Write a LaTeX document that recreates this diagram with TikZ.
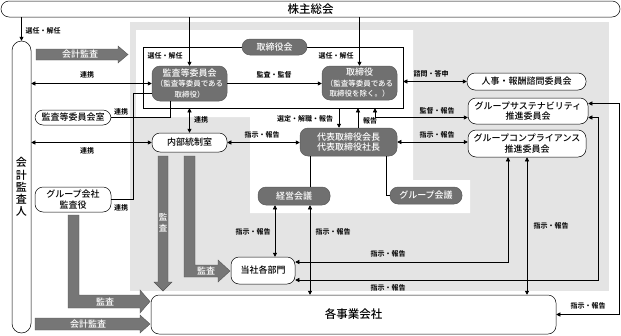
\documentclass[tikz,border=0pt]{standalone}
\usepackage{fontspec}
\setmainfont{Noto Sans CJK JP}[UprightFont=* Medium,BoldFont=* Bold]
\usetikzlibrary{arrows.meta,positioning,calc}
\definecolor{bggrey}{RGB}{228,228,228}
\definecolor{pillgrey}{RGB}{112,112,112}
\definecolor{bandgrey}{RGB}{118,118,118}
\newcommand\subln{\fontsize{7.5}{9.5}\selectfont}

\begin{document}
\begin{tikzpicture}[x=1pt,y=-1pt,line width=0.5pt,
  >={Triangle[length=4pt,width=4pt]},
  sz/.style 2 args={minimum width=#1pt,minimum height=#2pt},
  wpill/.style={draw,fill=white,rounded corners=8pt,align=center,inner sep=0pt,
    font=\fontsize{9}{10.5}\selectfont},
  gpill/.style={draw=pillgrey!80!black,fill=pillgrey,text=white,rounded corners=8pt,
    align=center,inner sep=0pt,font=\fontsize{9}{10.5}\selectfont},
  lab/.style={font=\fontsize{7}{8}\selectfont\bfseries,inner sep=0pt},
  band/.style={fill=bandgrey,draw=bandgrey!70!black,line width=0.4pt},
  bandtext/.style={text=white,font=\fontsize{9}{10}\selectfont,inner sep=0pt,align=center}]
  \useasboundingbox (0,0) rectangle (621,335);

  % Background areas
  \fill[bggrey] (130,22) rectangle (609,291);
  \fill[white] (136,30) -- (413,30) -- (413,180) -- (470,180) -- (470,213)
    -- (250,213) -- (250,117) -- (136,117) -- cycle;

  % Audit bands
  \draw[band] (36,49) -- (118,49) -- (118,46) -- (128,54.5) -- (118,63) -- (118,60) -- (36,60) -- cycle;
  \node[bandtext] (bdKaikeiA) at (80,54.5) {会計監査};
  \draw[band] (35,318) -- (140,318) -- (140,315) -- (150,324) -- (140,333) -- (140,330) -- (35,330) -- cycle;
  \node[bandtext] (bdKaikeiB) at (88,324) {会計監査};
  \draw[band] (68,215) -- (79,215) -- (79,295) -- (140,295) -- (140,290) -- (150,301.5)
    -- (140,313) -- (140,308) -- (68,308) -- cycle;
  \node[bandtext] (bdGroup) at (105,301.5) {監査};
  \draw[band] (158,156) -- (168,156) -- (168,282) -- (172,282) -- (163,291) -- (154,282)
    -- (158,282) -- cycle;
  \node[bandtext,font=\fontsize{8.5}{11}\selectfont] (bdNaibuA) at (163,223) {監\\査};
  \draw[band] (184,156) -- (195,156) -- (195,265) -- (218,265) -- (218,260) -- (230,271)
    -- (218,282) -- (218,277) -- (184,277) -- cycle;
  \node[bandtext] (bdNaibuB) at (206,271) {監査};

  % Nodes
  \node[wpill,sz={619}{16},font=\fontsize{11.5}{12}\selectfont] (kabu) at (310.5,9) {株主総会};
  \node[wpill,rounded corners=9.5pt,sz={19}{292},font=\fontsize{11}{12.2}\selectfont] (kaikei) at (21.5,187) {会\\計\\監\\査\\人};
  \node[draw,fill=white,sz={260}{61}] (board) at (273,77.5) {};
  \node[gpill,sz={65}{16}] (yakuinkai) at (274.5,47) {取締役会};
  \node[gpill,sz={75}{35}] (kansatou) at (189.5,83.5) {監査等委員会\\{\subln （監査等委員である}\\{\subln 取締役）}};
  \node[gpill,sz={75}{34}] (torishimari) at (359.5,83) {取締役\\{\subln （監査等委員である}\\{\subln 取締役を除く。）}};
  \node[wpill,sz={119}{17}] (jinji) at (526.5,81.5) {人事・報酬諮問委員会};
  \node[wpill,sz={120}{26}] (sustain) at (528,111) {グループサステナビリティ\\推進委員会};
  \node[wpill,sz={118}{27}] (comply) at (527,143.5) {グループコンプライアンス\\推進委員会};
  \node[gpill,sz={97}{28}] (daihyo) at (348.5,142) {代表取締役会長\\代表取締役社長};
  \node[wpill,sz={75}{19}] (naibu) at (189.5,142.5) {内部統制室};
  \node[wpill,sz={76}{15}] (kansashitsu) at (73,117.5) {監査等委員会室};
  \node[wpill,sz={76}{25}] (groupkansa) at (73,199.5) {グループ会社\\監査役};
  \node[gpill,sz={72}{18}] (keiei) at (294,196) {経営会議};
  \node[gpill,sz={72}{17}] (groupkaigi) at (426,195.5) {グループ会議};
  \node[wpill,sz={64}{27}] (tousha) at (263,270.5) {当社各部門};
  \node[wpill,sz={405}{39},font=\fontsize{11.5}{12}\selectfont] (kakujigyo) at (353.5,314.5) {各事業会社};

  % Connectors from the shareholders' meeting
  \draw[->] (kabu.south -| kaikei.north) -- (kaikei.north);
  \node[lab] (lbSenninA) at (43,31) {選任・解任};
  \draw[->] (kabu.south -| kansatou.north) -- (kansatou.north);
  \node[lab] (lbSenninB) at (165,56) {選任・解任};
  \draw[->] (kabu.south -| torishimari.north) -- (torishimari.north);
  \node[lab] (lbSenninC) at (336,56) {選任・解任};

  % Board level
  \draw[<->] (kaikei.east |- kansatou.west) -- (kansatou.west);
  \node[lab] (lbRenkeiA) at (87,75) {連携};
  \draw[->] (kansatou.east) -- (torishimari.west |- kansatou.east);
  \node[lab] (lbKansa) at (274,75) {監査・監督};
  \draw[<->] (board.east |- jinji.west) -- (jinji.west);
  \node[lab] (lbShimon) at (431,74) {諮問・答申};
  \draw (kansashitsu.east) -| ([xshift=-19.5pt]kansatou.south);
  \node[lab] (lbRenkeiB) at (121,112) {連携};
  \coordinate (gkTurn) at (133,93);
  \draw (groupkansa.east) -| (gkTurn) -- (kansatou.west |- gkTurn);
  \node[lab] (lbRenkeiC) at (121,208) {連携};

  % Board to executives
  \draw[->] ([xshift=-9.5pt]daihyo.north |- board.south) -- ([xshift=-9.5pt]daihyo.north);
  \node[lab] (lbSentei) at (305,119) {選定・解職・報告};
  \draw[->] ([xshift=9.5pt]daihyo.north) -- ([xshift=9.5pt]daihyo.north |- board.south);
  \node[lab] (lbHoukoku) at (370,121) {報告};
  \draw[<->] ([xshift=26.5pt]daihyo.north |- board.south) |- ([yshift=-6.5pt]sustain.west);
  \node[lab] (lbKantoku) at (437,111) {監督・報告};
  \draw[<->] (board.south -| naibu.north) -- (naibu.north);
  \node[lab] (lbRenkeiD) at (201,120) {連携};
  \draw[<->] (kaikei.east |- naibu.west) -- (naibu.west);
  \node[lab] (lbRenkeiE) at (87,151) {連携};
  \draw[<->] (naibu.east) -- (daihyo.west |- naibu.east);
  \node[lab] (lbShijiA) at (262,135) {指示・報告};
  \draw[<->] (daihyo.east) -- (comply.west |- daihyo.east);
  \node[lab] (lbShijiB) at (437,135) {指示・報告};

  % Executive meetings
  \draw ([xshift=16pt]keiei.north |- daihyo.south) -- ([xshift=16pt]keiei.north);
  \draw ([xshift=37.5pt]daihyo.south) |- (groupkaigi.west);
  \draw[<->] ([xshift=-19pt]keiei.south) -- ([xshift=-19pt]keiei.south |- tousha.north);
  \node[lab] (lbShijiC) at (253,232) {指示・報告};
  \draw[<->] ([xshift=16pt]keiei.south) -- ([xshift=16pt]keiei.south |- kakujigyo.north);
  \node[lab] (lbShijiD) at (333,232) {指示・報告};

  % Group committees to departments and companies
  \draw[<->] ([xshift=-19pt]comply.south) |- ([yshift=8.5pt]tousha.east);
  \node[lab] (lbShijiE) at (388,254) {指示・報告};
  \draw[<->] (comply.south) -- (comply.south |- kakujigyo.north);
  \node[lab] (lbShijiF) at (551,226) {指示・報告};
  \coordinate (suTurnA) at (598,280);
  \draw[<->] ([yshift=-6.5pt]sustain.east) -| (suTurnA) -- (tousha.east |- suTurnA);
  \node[lab] (lbShijiG) at (388,288) {指示・報告};
  \coordinate (suTurnB) at (619,314.5);
  \draw[<->] ([yshift=7.5pt]sustain.east) -| (suTurnB) -- (kakujigyo.east);
  \node[lab] (lbShijiH) at (588,306) {指示・報告};
\end{tikzpicture}
\end{document}
